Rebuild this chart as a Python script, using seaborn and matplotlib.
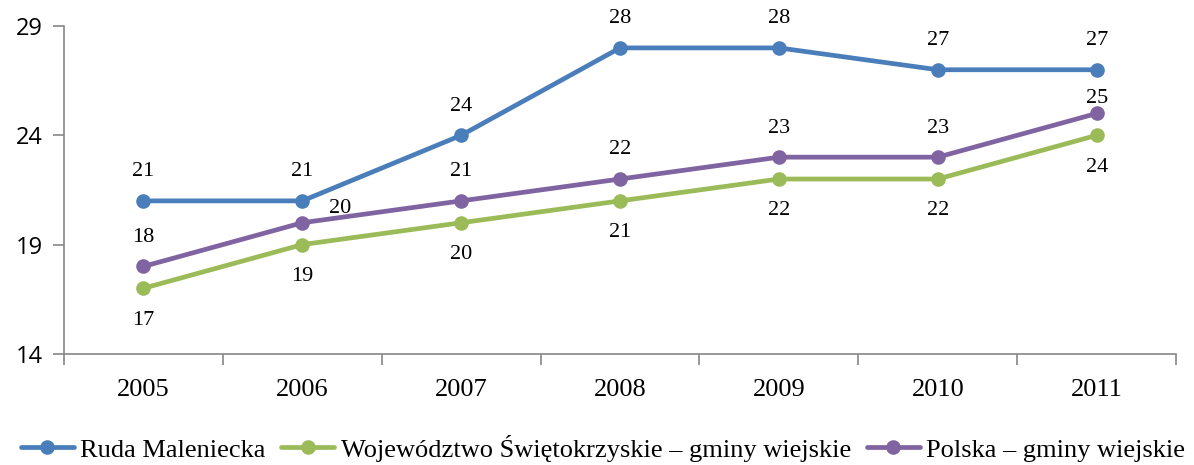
import matplotlib.pyplot as plt
import seaborn as sns
import pandas as pd
import numpy as np

# Data
years = ["2005", "2006", "2007", "2008", "2009", "2010", "2011"]
ruda = [21, 21, 24, 28, 28, 27, 27]
woj = [17, 19, 20, 21, 22, 22, 24]
polska = [18, 20, 21, 22, 23, 23, 25]
series_names = ["Ruda Maleniecka",
                "Województwo Świętokrzyskie – gminy wiejskie",
                "Polska – gminy wiejskie"]
colors = ["#4A7EBB", "#9BBB59", "#8064A2"]
y_ticks = [14, 19, 24, 29]

df = pd.DataFrame({
    "pos": list(range(len(years))) * 3,
    "value": ruda + woj + polska,
    "series": [s for s in series_names for _ in years],
})

sns.set_theme(style="white")
plt.rcParams["font.family"] = ["Liberation Serif", "DejaVu Serif"]

fig = plt.figure(figsize=(11.94, 4.65), dpi=100)
ax = fig.add_axes([0.0536, 0.239, 0.985 - 0.0536, 0.944 - 0.239])

sns.lineplot(data=df, x="pos", y="value", hue="series", hue_order=series_names,
             palette=colors, marker="o", markersize=10.5, markeredgewidth=0,
             linewidth=3.4, ax=ax, legend=True)

# data labels
label_offsets = {
    series_names[0]: [(0, 21)] * 7,
    series_names[1]: [(0, -23)] * 7,
    series_names[2]: [(0, 21), (19, 10), (0, 21), (0, 21), (0, 21), (0, 21), (0, 11)],
}
for name, vals in zip(series_names, [ruda, woj, polska]):
    for i, v in enumerate(vals):
        dx, dy = label_offsets[name][i]
        ax.annotate(str(v), (i, v), xytext=(dx, dy), textcoords="offset points",
                    ha="center" if dx == 0 else "left", va="center",
                    fontsize=16, color="black")

ax.set_xlim(-0.5, len(years) - 0.5)
ax.set_ylim(14, 29)
ax.set_yticks(y_ticks)
ax.set_yticklabels([str(t) for t in y_ticks], family=["Open Sans", "DejaVu Sans"],
                   fontsize=17, color="black")
ax.set_xticks(range(len(years)))
ax.set_xticklabels(years, fontsize=19, color="black")
ax.set_xticks(np.arange(-0.5, len(years)), minor=True)
ax.tick_params(axis="x", which="major", length=0, pad=18)
ax.tick_params(axis="x", which="minor", length=8, color="#868686", width=1.2, direction="out", bottom=True)
ax.tick_params(axis="y", length=8, color="#868686", width=1.2, direction="out", left=True, pad=7)
ax.set_xlabel("")
ax.set_ylabel("")

for side in ["top", "right"]:
    ax.spines[side].set_visible(False)
for side in ["left", "bottom"]:
    ax.spines[side].set_color("#868686")
    ax.spines[side].set_linewidth(1.2)

handles, labels = ax.get_legend_handles_labels()
ax.get_legend().remove()
fig.legend(handles, labels, loc="center", bbox_to_anchor=(0.505, 1 - 448 / 465),
           ncol=3, frameon=False, fontsize=19, handlelength=2.0, handletextpad=0.25,
           columnspacing=0.6, borderaxespad=0, labelcolor="black")

fig.savefig("out.png", dpi=100)
